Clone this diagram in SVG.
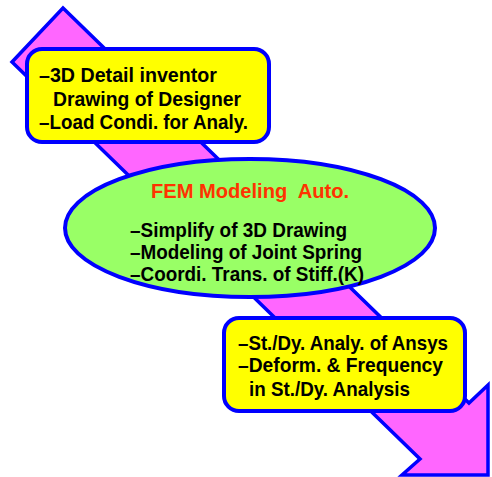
<svg xmlns="http://www.w3.org/2000/svg" width="492" height="477" viewBox="0 0 492 477">
  <style>
    .arrow { fill: #FF66FF; stroke: #0000FF; stroke-width: 3.5; stroke-linejoin: miter; }
    .box { fill: #FFFF00; stroke: #0000FF; stroke-width: 4; }
    .oval { fill: #99FF66; stroke: #0000FF; stroke-width: 4; }
    .t { font-family: "Liberation Sans", Arial, sans-serif; font-size: 21px; font-weight: bold; fill: #000000; }
    .title { fill: #FF3300; }
  </style>

  <!-- process flow arrow -->
  <g id="connectors">
    <polygon class="arrow" points="63,8 469,403 488,385 488,475 402,475 420,459 12,62"/>
  </g>

  <g id="node-input">
    <rect class="box" x="27" y="49" width="242" height="93" rx="15" ry="15"/>
    <text class="t" x="39" y="82" textLength="178" lengthAdjust="spacingAndGlyphs">–3D Detail inventor</text>
    <text class="t" x="53" y="106" textLength="188" lengthAdjust="spacingAndGlyphs">Drawing of Designer</text>
    <text class="t" x="39" y="129" textLength="209" lengthAdjust="spacingAndGlyphs">–Load Condi. for Analy.</text>
  </g>

  <g id="node-fem">
    <ellipse class="oval" cx="250" cy="228" rx="185" ry="69"/>
    <text class="t title" x="151" y="198" textLength="198" lengthAdjust="spacingAndGlyphs">FEM Modeling&#160; Auto.</text>
    <text class="t" x="130" y="237" textLength="217" lengthAdjust="spacingAndGlyphs">–Simplify of 3D Drawing</text>
    <text class="t" x="130" y="259" textLength="232" lengthAdjust="spacingAndGlyphs">–Modeling of Joint Spring</text>
    <text class="t" x="130" y="281" textLength="234" lengthAdjust="spacingAndGlyphs">–Coordi. Trans. of Stiff.(K)</text>
  </g>

  <g id="node-analysis">
    <rect class="box" x="224" y="318" width="241" height="93" rx="15" ry="15"/>
    <text class="t" x="238" y="350" textLength="210" lengthAdjust="spacingAndGlyphs">–St./Dy. Analy. of Ansys</text>
    <text class="t" x="238" y="372" textLength="205" lengthAdjust="spacingAndGlyphs">–Deform. &amp; Frequency</text>
    <text class="t" x="249" y="396" textLength="161" lengthAdjust="spacingAndGlyphs">in St./Dy. Analysis</text>
  </g>
</svg>
